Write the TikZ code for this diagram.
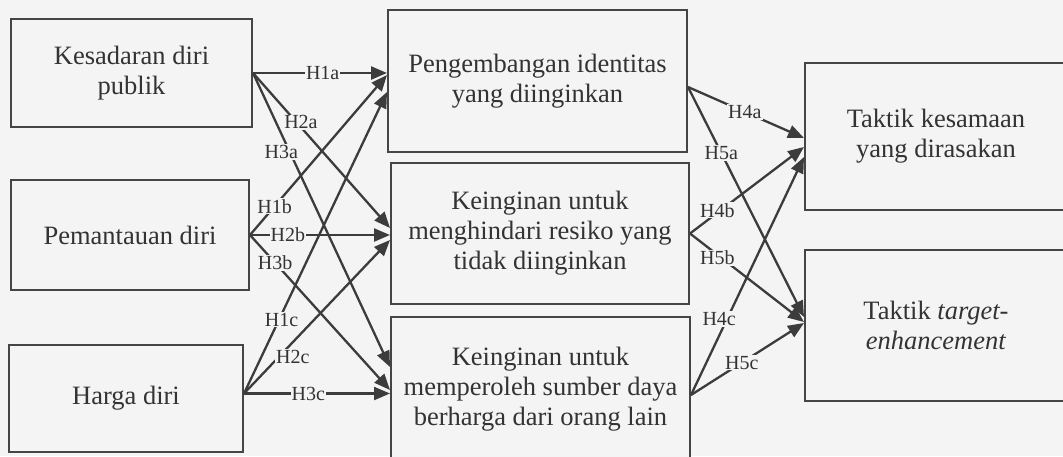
\documentclass[tikz,border=0pt]{standalone}
\usepackage{fontspec}
\setmainfont{Liberation Serif}
\usetikzlibrary{arrows.meta}
\definecolor{bgc}{HTML}{F4F4F4}
\definecolor{linec}{HTML}{3C3C3C}
\definecolor{boxc}{HTML}{454545}
\definecolor{txtc}{HTML}{333333}
\begin{document}
\begin{tikzpicture}[x=1pt,y=-1pt,
  box/.style={draw=boxc, line width=2pt, fill=bgc, text=txtc, align=center,
    inner sep=0pt, font=\fontsize{26.5}{30}\selectfont},
  conn/.style={draw=linec, line width=2.3pt, -{Triangle[length=16pt,width=13pt]}},
  lab/.style={fill=bgc, text=txtc, inner sep=1pt, font=\fontsize{20}{22}\selectfont}]
\clip (0,0) rectangle (1063,456);
\fill[bgc] (0,0) rectangle (1063,456);
% left column
\node[box, minimum width=241pt, minimum height=108pt] (ks) at (131.5,73) {Kesadaran diri\\publik};
\node[box, minimum width=238pt, minimum height=110pt] (pd) at (130,235) {Pemantauan diri};
\node[box, minimum width=234pt, minimum height=107pt] (hd) at (126,398.5) {Harga diri};
% middle column
\node[box, minimum width=299pt, minimum height=142pt] (pi) at (537.5,81) {Pengembangan identitas\\yang diinginkan};
\node[box, minimum width=298pt, minimum height=141pt] (kh) at (540,233.5) {Keinginan untuk\\menghindari resiko yang\\tidak diinginkan};
\node[box, minimum width=299pt, minimum height=144pt] (km) at (540.5,389) {Keinginan untuk\\memperoleh sumber daya\\berharga dari orang lain};
% right column
\node[box, minimum width=262pt, minimum height=147pt] (tk) at (936,136.5) {Taktik kesamaan\\yang dirasakan};
\node[box, minimum width=262pt, minimum height=151pt] (tt) at (936,325.5) {Taktik \textit{target-}\\\textit{enhancement}};
% left to middle
\draw[conn] (ks.east) -- node[lab,pos=0.52]{H1a} ([yshift=8pt]pi.west);
\draw[conn] (ks.east) -- node[lab,pos=0.35,yshift=5pt]{H2a} ([yshift=5.5pt]kh.west);
\draw[conn] (ks.east) -- node[lab,pos=0.269,xshift=-8.5pt]{H3a} ([yshift=22pt]km.west);
\draw[conn] (pd.east) -- node[lab,pos=0.18]{H1b} ([yshift=6pt]pi.west);
\draw[conn] (pd.east) -- node[lab,pos=0.27]{H2b} (pd.east -| kh.west);
\draw[conn] (pd.east) -- node[lab,pos=0.18]{H3b} ([yshift=-1pt]km.west);
\draw[conn] ([yshift=5pt]hd.east) -- node[lab,pos=0.245,xshift=2.5pt]{H1c} ([yshift=-11pt]pi.west);
\draw[conn] ([yshift=5pt]hd.east) -- node[lab,pos=0.238,xshift=14pt]{H2c} ([yshift=-6.5pt]kh.west);
\draw[conn] ([yshift=5pt]hd.east) -- node[lab,pos=0.44]{H3c} ([yshift=-4.5pt]km.west);
% middle to right
\draw[conn] ([yshift=-6pt]pi.east) -- node[lab,pos=0.49]{H4a} ([yshift=-1.5pt]tk.west);
\draw[conn] ([yshift=-6pt]pi.east) -- node[lab,pos=0.287]{H5a} ([yshift=8.5pt]tt.west);
\draw[conn] (kh.east) -- node[lab,pos=0.24,yshift=2.5pt]{H4b} ([yshift=-10.5pt]tk.west);
\draw[conn] (kh.east) -- node[lab,pos=0.24,yshift=-3pt]{H5b} ([yshift=3.5pt]tt.west);
\draw[conn] ([yshift=-6pt]km.east) -- node[lab,pos=0.32,xshift=-8pt]{H4c} ([yshift=-20.5pt]tk.west);
\draw[conn] ([yshift=-6pt]km.east) -- node[lab,pos=0.45]{H5c} ([yshift=2.5pt]tt.west);
\end{tikzpicture}
\end{document}
